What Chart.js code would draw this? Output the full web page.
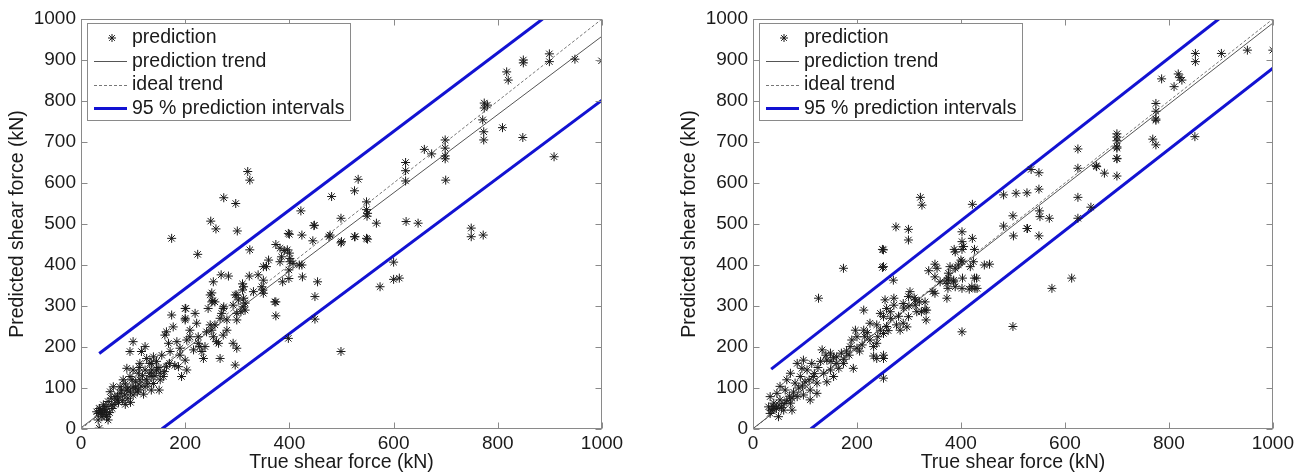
<!DOCTYPE html>
<html>
<head>
<meta charset="utf-8">
<script src="https://cdn.jsdelivr.net/npm/chart.js@4.4.0/dist/chart.umd.min.js"></script>
<style>
  html, body { margin: 0; padding: 0; background: #fff; }
  #wrap { position: relative; width: 1297px; height: 476px; overflow: hidden; }
  canvas { position: absolute; top: 0; }
</style>
</head>
<body>
<div id="wrap">
  <canvas id="leftChart" width="640" height="476" style="left:0"></canvas>
  <canvas id="rightChart" width="625" height="476" style="left:672px"></canvas>
</div>
<script>
// axis ticks
const xTicks = [0, 200, 400, 600, 800, 1000];
const yTicks = [0, 100, 200, 300, 400, 500, 600, 700, 800, 900, 1000];

// legend labels
const labelPoints = 'prediction';
const labelTrend = 'prediction trend';
const labelIdeal = 'ideal trend';
const labelInterval = '95 % prediction intervals';

// left panel: [true shear force, predicted shear force] (kN)
const leftPoints = [
  [899,915],[899,896],[849,900],[849,893],[817,871],[820,851],[948,902],[999,898],[774,795],[780,790],
  [774,783],[771,754],[773,725],[773,705],[809,735],[848,711],[908,664],[699,705],[699,685],[699,666],
  [699,659],[700,607],[659,682],[673,671],[623,650],[623,630],[623,605],[532,609],[525,581],[481,567],
  [548,554],[548,535],[550,526],[549,519],[499,514],[448,497],[567,502],[624,506],[647,502],[525,469],
  [548,465],[749,490],[749,469],[772,473],
  [424,473],[445,459],[478,473],[499,454],[526,469],[550,463],[398,477],[476,469],[500,457],[424,400],
  [425,371],[454,359],[449,323],[449,268],[499,189],[574,347],[600,407],[600,365],[611,368],
  [320,628],[324,607],[274,564],[297,550],[249,507],[259,488],[300,483],[174,465],[400,475],[422,532],
  [447,496],[224,426],[324,437],
  [374,310],[374,276],[374,450],[382,441],[390,435],[396,437],[400,429],[401,416],[385,420],[382,408],
  [401,408],[360,412],[350,396],[340,376],[350,363],[349,339],[350,331],[323,373],[310,354],[310,339],
  [299,327],[302,315],[311,298],[307,286],[254,359],[269,376],[283,373],[251,332],[253,313],[273,294],
  [387,359],[399,367],[399,388],[419,400],[201,294],[219,282],[398,221],[407,404],[356,396],
  [312,347],[296,327],[312,319],[347,347],[331,335],[248,327],[251,310],[257,310],[244,294],[274,298],
  [270,282],[267,270],[280,266],[292,302],[299,282],[299,266],[315,290],[315,307],[372,310],[174,278],
  [200,294],[200,270],[248,254],[251,241],[254,225],[241,237],[260,213],[257,254],[292,209],[299,197],
  [296,156],[280,241],[273,229],[209,241],[209,225],[225,225],[225,209],[203,217],[216,193],[232,189],
  [238,201],[164,237],[161,229],[184,213],[168,209],[190,197],[190,180],[200,168],[187,152],[203,144],
  [171,189],[155,180],[139,176],[136,144],[152,136],[94,189],[100,213],[123,201],[116,189],[126,172],
  [113,160],[132,160],[200,266],[222,258],[177,249],[193,128],[228,201],[235,172],[264,209],[267,172],
  [88,148],[100,144],[110,136],[94,128],[81,120],[75,103],[88,95],[100,103],[113,120],[126,120],
  [139,111],[152,120],[158,128],[136,128],[123,103],[110,95],[100,83],[84,83],[75,87],[145,144],
  [164,152],[123,144],[132,136],[62,103],[56,91],[65,79],[69,71],[52,67],[59,59],[43,59],
  [36,50],[46,42],[33,38],[40,30],[49,30],[30,42],[52,22],[33,22],[35,2],
  [70,80],[78,95],[85,110],[90,75],[95,90],[105,115],[118,130],[128,110],[142,130],[148,150],
  [60,50],[45,48],[38,45],[55,40],[42,35],[65,60],[72,65],[80,70],[105,100],[115,105],
  [120,85],[135,95],[90,100],[98,120],[108,90],[85,60],[95,65],[145,165],[160,140],[170,160],
  [180,155],[150,95],[135,160],[112,150],[48,55],[58,75],[40,40],[35,50],[50,35]
];

// right panel: [true shear force, predicted shear force] (kN)
const rightPoints = [
  [851,916],[851,896],[901,916],[951,924],[1000,924],[786,854],[818,866],[821,857],[825,851],[810,835],
  [775,794],[775,775],[775,756],[775,753],[769,707],[775,693],[700,720],[700,712],[700,703],[700,688],
  [700,660],[700,617],[850,713],[625,683],[625,636],[625,565],[625,514],[660,642],[676,624],[535,633],
  [550,625],[550,585],[482,571],[506,575],[527,576],[500,520],[551,532],[552,518],[570,514],[650,541],
  [482,495],[528,489],[661,640],[700,659],[700,685],
  [322,565],[325,546],[275,493],[299,487],[299,461],[249,438],[249,394],[270,363],[422,548],[501,471],
  [527,489],[550,471],[402,481],[402,457],[422,465],[387,438],[402,438],[426,438],[400,412],[379,396],
  [389,392],[376,380],[376,368],[350,402],[354,392],[338,386],[445,400],[455,402],[426,368],[403,368],
  [402,343],[416,341],[431,343],[350,371],[360,359],[373,363],[386,359],[389,347],[346,335],[373,319],
  [375,343],[302,335],[299,323],[312,315],[289,306],[334,290],[324,286],[312,302],[271,319],[271,302],
  [254,315],[257,294],[245,282],[264,286],[251,274],[213,290],[575,343],[613,368],[500,250],
  [174,392],[126,319],[251,437],[251,396],[251,124],[251,180],[251,172],[232,178],[238,172],[193,148],
  [402,237],[331,290],[333,266],[296,249],[299,274],[315,286],[350,331],[331,310],[373,355],[386,363],
  [395,400],[402,408],[418,396],[424,408],[389,432],[405,445],[421,347],[427,343],[430,368],
  [200,225],[190,217],[187,201],[200,197],[213,241],[197,241],[225,258],[238,254],[245,241],[251,233],
  [257,250],[276,254],[283,241],[289,258],[238,209],[225,217],[232,201],
  [97,168],[104,144],[113,160],[116,128],[123,112],[136,136],[142,115],[149,144],[155,128],[165,148],
  [174,160],[161,176],[149,185],[133,193],[142,168],
  [85,160],[72,136],[94,148],[91,128],[81,112],[65,120],[52,104],[46,87],[62,95],[33,79],
  [40,63],[52,71],[30,54],[35,46],[33,38],[59,46],[75,46],[49,30],[110,71],[123,87],
  [110,95],[97,83],[85,79],[75,75],[72,63],
  [40,55],[45,50],[50,58],[55,52],[38,48],[60,62],[65,70],[70,80],[78,90],[88,100],
  [95,105],[100,115],[108,120],[118,135],[125,150],[130,165],[140,180],[150,165],[155,175],[160,160],
  [170,185],[175,170],[180,190],[185,180],[210,205],[215,225],[220,235],[205,190],[240,225],[260,240],
  [265,270],[280,275],[290,295],[300,300],[310,320],[320,310]
];

// line end points: x values, y values
const leftTrendX = [0, 1000],   leftTrendY = [3, 958];
const leftIdealX = [0, 1000],   leftIdealY = [0, 1000];
const leftUpperX = [35, 886],   leftUpperY = [184, 1000];
const leftLowerX = [155, 1000], leftLowerY = [0, 802];

const rightTrendX = [0, 1000],   rightTrendY = [1, 990];
const rightIdealX = [0, 1000],   rightIdealY = [0, 1000];
const rightUpperX = [35, 896],   rightUpperY = [146, 1000];
const rightLowerX = [111, 1000], rightLowerY = [0, 880];

const FAMILY = 'Liberation Sans, Arial, sans-serif';
const TICK_FONT = { family: FAMILY, size: 19 };
const TEXT_FONT = { family: FAMILY, size: 19.5 };
const TEXT = '#1a1a1a';
const FRAME = '#8a8a8a';
const BLUE = 'rgb(18, 18, 210)';

function pairs(xs, ys) {
  return xs.map((x, i) => ({ x: x, y: ys[i] }));
}

// frame around the plot with MATLAB-style inward ticks
const boxTicks = {
  id: 'boxTicks',
  afterDatasetsDraw(chart) {
    const { ctx, chartArea: a, scales: { x, y } } = chart;
    ctx.save();
    ctx.strokeStyle = FRAME;
    ctx.lineWidth = 1;
    ctx.setLineDash([]);
    const L = Math.round(a.left) + 0.5, R = Math.round(a.right) - 0.5;
    const T = Math.round(a.top) + 0.5, B = Math.round(a.bottom) - 0.5;
    ctx.strokeRect(L, T, R - L, B - T);
    ctx.beginPath();
    x.ticks.forEach(t => {
      const px = Math.round(x.getPixelForValue(t.value)) + 0.5;
      ctx.moveTo(px, B); ctx.lineTo(px, B - 6);
      ctx.moveTo(px, T); ctx.lineTo(px, T + 6);
    });
    y.ticks.forEach(t => {
      const py = Math.round(y.getPixelForValue(t.value)) + 0.5;
      ctx.moveTo(L, py); ctx.lineTo(L + 6, py);
      ctx.moveTo(R, py); ctx.lineTo(R - 6, py);
    });
    ctx.stroke();
    ctx.restore();
  }
};

// legend box inside the plot, upper left
const boxLegend = {
  id: 'boxLegend',
  afterDraw(chart) {
    const { ctx, chartArea: a } = chart;
    const bx = Math.round(a.left) + 6, by = Math.round(a.top) + 4;
    const bw = 263, bh = 97;
    ctx.save();
    ctx.fillStyle = '#fff';
    ctx.fillRect(bx, by, bw, bh);
    ctx.strokeStyle = FRAME;
    ctx.lineWidth = 1;
    ctx.strokeRect(bx + 0.5, by + 0.5, bw, bh);
    const sets = chart.data.datasets.filter(d => !d.noLegend);
    sets.forEach((d, i) => {
      const cy = by + 15 + i * 23.4;
      ctx.setLineDash([]);
      if (d.showLine) {
        ctx.strokeStyle = d.borderColor;
        ctx.lineWidth = d.borderWidth;
        ctx.setLineDash(d.borderDash || []);
        ctx.beginPath();
        ctx.moveTo(a.left + 13, Math.round(cy) + 0.5);
        ctx.lineTo(a.left + 46, Math.round(cy) + 0.5);
        ctx.stroke();
      } else {
        ctx.strokeStyle = d.borderColor;
        ctx.lineWidth = 1;
        Chart.helpers.drawPoint(ctx, { pointStyle: 'star', radius: 4, borderWidth: 1, rotation: 0 }, a.left + 31, cy);
      }
      ctx.setLineDash([]);
      ctx.fillStyle = TEXT;
      ctx.font = TEXT_FONT.size + 'px ' + FAMILY;
      ctx.textBaseline = 'middle';
      ctx.textAlign = 'left';
      ctx.fillText(d.label, a.left + 51, cy);
    });
    ctx.restore();
  }
};

function makeChart(id, points, trend, ideal, upper, lower, padRight) {
  const ctx = document.getElementById(id).getContext('2d');
  return new Chart(ctx, {
    type: 'scatter',
    data: {
      datasets: [
        {
          label: labelPoints,
          data: points.map(p => ({ x: p[0], y: p[1] })),
          pointStyle: 'star',
          pointRadius: 4.5,
          pointBorderWidth: 1,
          borderColor: '#1a1a1a',
          backgroundColor: '#1a1a1a',
          showLine: false
        },
        {
          label: labelTrend,
          data: trend,
          showLine: true,
          borderColor: '#555',
          borderWidth: 1,
          pointRadius: 0
        },
        {
          label: labelIdeal,
          data: ideal,
          showLine: true,
          borderColor: '#777',
          borderWidth: 1,
          borderDash: [3, 2],
          pointRadius: 0
        },
        {
          label: labelInterval,
          data: upper,
          showLine: true,
          borderColor: BLUE,
          borderWidth: 3,
          pointRadius: 0
        },
        {
          label: labelInterval,
          data: lower,
          showLine: true,
          borderColor: BLUE,
          borderWidth: 3,
          pointRadius: 0,
          noLegend: true
        }
      ]
    },
    options: {
      responsive: false,
      animation: false,
      devicePixelRatio: 1,
      layout: { padding: { top: 19, right: padRight, left: 0, bottom: 0 } },
      plugins: { legend: { display: false }, tooltip: { enabled: false } },
      scales: {
        x: {
          type: 'linear',
          min: 0,
          max: 1000,
          afterBuildTicks: s => { s.ticks = xTicks.map(v => ({ value: v })); },
          ticks: { color: TEXT, font: TICK_FONT, padding: 3, maxRotation: 0, autoSkip: false, callback: v => String(v) },
          grid: { display: false, drawTicks: false },
          border: { display: false },
          title: { display: true, text: 'True shear force (kN)', color: TEXT, font: TEXT_FONT, padding: { top: 0, bottom: 2 } },
          afterFit: s => { s.height = 47; }
        },
        y: {
          type: 'linear',
          min: 0,
          max: 1000,
          afterBuildTicks: s => { s.ticks = yTicks.map(v => ({ value: v })); },
          ticks: { color: TEXT, font: TICK_FONT, padding: 5, autoSkip: false, callback: v => String(v) },
          grid: { display: false, drawTicks: false },
          border: { display: false },
          title: { display: true, text: 'Predicted shear force (kN)', color: TEXT, font: TEXT_FONT, padding: { top: 6, bottom: 0 } },
          afterFit: s => { s.width = 81; }
        }
      }
    },
    plugins: [boxTicks, boxLegend]
  });
}

makeChart('leftChart', leftPoints,
  pairs(leftTrendX, leftTrendY), pairs(leftIdealX, leftIdealY),
  pairs(leftUpperX, leftUpperY), pairs(leftLowerX, leftLowerY), 38);

makeChart('rightChart', rightPoints,
  pairs(rightTrendX, rightTrendY), pairs(rightIdealX, rightIdealY),
  pairs(rightUpperX, rightUpperY), pairs(rightLowerX, rightLowerY), 24);
</script>
</body>
</html>
